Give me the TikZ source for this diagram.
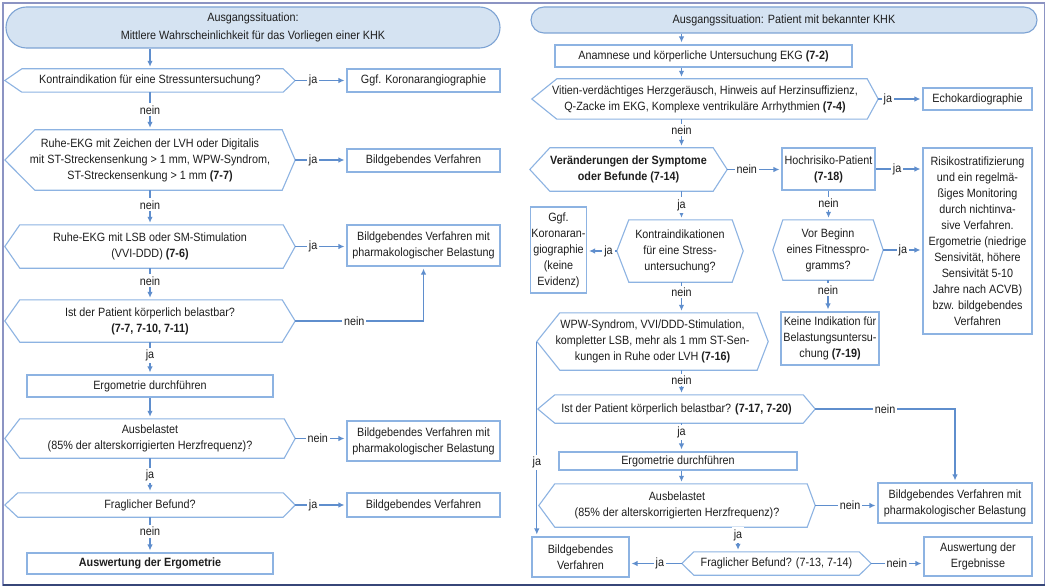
\documentclass[tikz,border=0pt]{standalone}
\usepackage{fontspec}
\setmainfont[FakeStretch=0.9]{Liberation Sans}
\usetikzlibrary{arrows.meta}
\definecolor{boxc}{RGB}{141,179,226}
\definecolor{linec}{RGB}{95,142,205}
\definecolor{hdf}{RGB}{213,227,242}
\definecolor{hdb}{RGB}{125,163,212}
\definecolor{framec}{RGB}{140,148,195}
\definecolor{framedk}{RGB}{55,70,120}
\definecolor{txt}{RGB}{30,30,30}
\newcommand{\hexdraw}[3]{\draw[hexline] (#1.west) -- ([xshift=#2pt]#1.north west) -- ([xshift=-#3pt]#1.north east) -- (#1.east) -- ([xshift=-#3pt]#1.south east) -- ([xshift=#2pt]#1.south west) -- cycle;}
\begin{document}
\begin{tikzpicture}[x=1pt,y=-1pt, font=\fontsize{12}{16}\selectfont, text=txt,
 bx/.style={draw=boxc, line width=1.1pt, align=center, inner sep=1pt},
 hx/.style={align=center, inner sep=0pt},
 hexline/.style={draw=boxc, line width=1.1pt},
 hd/.style={draw=hdb, fill=hdf, line width=1.1pt, align=center, inner sep=1pt},
 arr/.style={draw=linec, line width=1.3pt, -{Latex[length=6pt,width=5.5pt]}, shorten >=2pt},
 lbl/.style={fill=white, inner sep=2pt, text=txt}]
\useasboundingbox (0,0) rectangle (1048,588);
\fill[white] (0,0) rectangle (1048,588);
\draw[framec, line width=1.2pt] (3,3) rectangle (1044.5,585);
\draw[framedk, line width=1.4pt] (3,585) -- (1044.5,585);
% ---------- left ----------
\node[hd, rounded corners=20.5pt, minimum width=494pt, minimum height=41pt] (h1) at (253,27.5) {Ausgangssituation:\\[2pt]Mittlere Wahrscheinlichkeit für das Vorliegen einer KHK};
\node[hx, minimum width=290pt, minimum height=23pt] (d1) at (150,80.5) {Kontraindikation für eine Stressuntersuchung?};
\node[bx, minimum width=153pt, minimum height=23pt] (b1) at (423.5,80.5) {Ggf. Koronarangiographie};
\node[hx, minimum width=290pt, minimum height=60pt] (d2) at (150,160) {Ruhe-EKG mit Zeichen der LVH oder Digitalis\\mit ST-Streckensenkung > 1 mm, WPW-Syndrom,\\ST-Streckensenkung > 1 mm \textbf{(7-7)}};
\node[bx, minimum width=153pt, minimum height=23pt] (b2) at (423.5,160.5) {Bildgebendes Verfahren};
\node[hx, minimum width=290pt, minimum height=43pt] (d3) at (150,246.5) {Ruhe-EKG mit LSB oder SM-Stimulation\\(VVI-DDD) \textbf{(7-6)}};
\node[bx, minimum width=153pt, minimum height=41pt] (b3) at (423.5,245.5) {Bildgebendes Verfahren mit\\pharmakologischer Belastung};
\node[hx, minimum width=290pt, minimum height=42pt] (d4) at (150,321) {Ist der Patient körperlich belastbar?\\\textbf{(7-7, 7-10, 7-11)}};
\node[bx, minimum width=246pt, minimum height=22pt] (e1) at (150,386) {Ergometrie durchführen};
\node[hx, minimum width=290pt, minimum height=39pt] (d5) at (150,438.5) {Ausbelastet\\(85\% der alterskorrigierten Herzfrequenz)?};
\node[bx, minimum width=153pt, minimum height=40pt] (b5) at (423.5,441) {Bildgebendes Verfahren mit\\pharmakologischer Belastung};
\node[hx, minimum width=290pt, minimum height=24pt] (d6) at (150,505) {Fraglicher Befund?};
\node[bx, minimum width=153pt, minimum height=24pt] (b6) at (423.5,505) {Bildgebendes Verfahren};
\node[bx, minimum width=246pt, minimum height=21pt] (b7) at (150,563.5) {\textbf{Auswertung der Ergometrie}};
\hexdraw{d1}{17}{12}
\hexdraw{d2}{30}{13}
\hexdraw{d3}{15}{12}
\hexdraw{d4}{15}{13}
\hexdraw{d5}{15}{11}
\hexdraw{d6}{13}{12}
\draw[arr] (d1.north |- h1.south) -- (d1.north);
\draw[arr] (d1.east) -- node[lbl,pos=.35]{ja} (b1.west);
\draw[arr] (d1.south) -- node[lbl,pos=.47]{nein} (d2.north);
\draw[arr] (d2.east) -- node[lbl,pos=.35]{ja} (d2.east -| b2.west);
\draw[arr] (d2.south) -- node[lbl,pos=.42]{nein} (d3.north);
\draw[arr] (d3.east) -- node[lbl,pos=.35]{ja} (d3.east -| b3.west);
\draw[arr] (d3.south) -- node[lbl,pos=.4]{nein} (d4.north);
\draw[arr] (d4.east) -| node[lbl,pos=.23]{nein} (b3.south);
\draw[arr] (d4.south) -- node[lbl,pos=.4]{ja} (e1.north);
\draw[arr] (e1.south) -- (d5.north);
\draw[arr] (d5.east) -- node[lbl,pos=.44]{nein} (d5.east -| b5.west);
\draw[arr] (d5.south) -- node[lbl,pos=.49]{ja} (d6.north);
\draw[arr] (d6.east) -- node[lbl,pos=.35]{ja} (b6.west);
\draw[arr] (d6.south) -- node[lbl,pos=.4]{nein} (b7.north);
% ---------- right ----------
\node[hd, rounded corners=13pt, minimum width=506pt, minimum height=26pt] (h2) at (784,20) {Ausgangssituation: Patient mit bekannter KHK};
\node[bx, minimum width=297pt, minimum height=22pt] (an) at (703.5,56) {Anamnese und körperliche Untersuchung EKG \textbf{(7-2)}};
\node[hx, minimum width=346pt, minimum height=40pt] (vit) at (705,99) {Vitien-verdächtiges Herzgeräusch, Hinweis auf Herzinsuffizienz,\\Q-Zacke im EKG, Komplexe ventrikuläre Arrhythmien \textbf{(7-4)}};
\node[bx, minimum width=109pt, minimum height=22pt] (echo) at (977.5,99) {Echokardiographie};
\node[hx, minimum width=197pt, minimum height=43pt] (ver) at (628.5,169.5) {\textbf{Veränderungen der Symptome}\\\textbf{oder Befunde (7-14)}};
\node[bx, minimum width=93pt, minimum height=42pt] (hoch) at (828.5,169) {Hochrisiko-Patient\\\textbf{(7-18)}};
\node[bx, minimum width=109pt, minimum height=186pt] (risk) at (977.5,241) {Risikostratifizierung\\und ein regelmä-\\ßiges Monitoring\\durch nichtinva-\\sive Verfahren.\\Ergometrie (niedrige\\Sensivität, höhere\\Sensivität 5-10\\Jahre nach ACVB)\\bzw. bildgebendes\\Verfahren};
\node[bx, minimum width=53pt, minimum height=86pt] (ggf) at (558.5,250) {Ggf.\\Koronaran-\\giographie\\(keine\\Evidenz)};
\node[hx, minimum width=126pt, minimum height=62pt] (kon) at (680,251) {Kontraindikationen\\für eine Stress-\\untersuchung?};
\node[hx, minimum width=110pt, minimum height=60pt] (vor) at (828,250) {Vor Beginn\\eines Fitnesspro-\\gramms?};
\node[bx, minimum width=98pt, minimum height=53pt] (keine) at (830,338.5) {Keine Indikation für\\Belastungsuntersu-\\chung \textbf{(7-19)}};
\node[hx, minimum width=231pt, minimum height=57pt] (wpw) at (652.5,341.5) {WPW-Syndrom, VVI/DDD-Stimulation,\\kompletter LSB, mehr als 1 mm ST-Sen-\\kungen in Ruhe oder LVH \textbf{(7-16)}};
\node[hx, minimum width=277pt, minimum height=28pt] (bel) at (676.5,409) {Ist der Patient körperlich belastbar? \textbf{(7-17, 7-20)}};
\node[bx, minimum width=238pt, minimum height=18pt] (e2) at (678,461) {Ergometrie durchführen};
\node[hx, minimum width=276pt, minimum height=43pt] (aus) at (677,505.5) {Ausbelastet\\(85\% der alterskorrigierten Herzfrequenz)?};
\node[bx, minimum width=154pt, minimum height=40pt] (bp) at (955,503) {Bildgebendes Verfahren mit\\pharmakologischer Belastung};
\node[hx, minimum width=189pt, minimum height=23pt] (frag) at (776.5,563.5) {Fraglicher Befund? (7-13, 7-14)};
\node[bx, minimum width=97pt, minimum height=40pt] (bv) at (580.5,557) {Bildgebendes\\Verfahren};
\node[bx, minimum width=108pt, minimum height=39pt] (ausw) at (978,556.5) {Auswertung der\\Ergebnisse};
\hexdraw{vit}{25}{11}
\hexdraw{ver}{20}{14}
\hexdraw{kon}{12}{11}
\hexdraw{vor}{10}{10}
\hexdraw{wpw}{23}{11}
\hexdraw{bel}{17}{12}
\hexdraw{aus}{16}{8}
\hexdraw{frag}{12}{12}
\coordinate (cx) at (681.5,0);
\coordinate (fj) at (738,0);
\draw[arr] (cx |- h2.south) -- (cx |- an.north);
\draw[arr] (cx |- an.south) -- (cx |- vit.north);
\draw[arr] (vit.east) -- node[lbl,pos=.22]{ja} (echo.west);
\draw[arr] (cx |- vit.south) -- node[lbl,pos=.38]{nein} (cx |- ver.north);
\draw[arr] (ver.east) -- node[lbl,pos=.36]{nein} (ver.east -| hoch.west);
\draw[arr] (hoch.east) -- node[lbl,pos=.46]{ja} (hoch.east -| risk.west);
\draw[arr] (hoch.south) -- node[lbl,pos=.43]{nein} (hoch.south |- vor.north);
\draw[arr] (vor.east) -- node[lbl,pos=.5]{ja} (vor.east -| risk.west);
\draw[arr] (cx |- ver.south) -- node[lbl,pos=.48]{ja} (cx |- kon.north);
\draw[arr] (kon.west) -- node[lbl,pos=.28]{ja} (kon.west -| ggf.east);
\draw[arr] (vor.south) -- node[lbl,pos=.31]{nein} (vor.south |- keine.north);
\draw[arr] (cx |- kon.south) -- node[lbl,pos=.32]{nein} (cx |- wpw.north);
\draw[arr] (wpw.west) -- node[lbl,pos=.62]{ja} (wpw.west |- bv.north);
\draw[arr] (cx |- wpw.south) -- node[lbl,pos=.4]{nein} (cx |- bel.north);
\draw[arr] (bel.east) -| node[lbl,pos=.25]{nein} (bp.north);
\draw[arr] (cx |- bel.south) -- node[lbl,pos=.34]{ja} (cx |- e2.north);
\draw[arr] (cx |- e2.south) -- (cx |- aus.north);
\draw[arr] (aus.east) -- node[lbl,pos=.56]{nein} (aus.east -| bp.west);
\draw[arr] (fj |- aus.south) -- node[lbl,pos=.32]{ja} (fj |- frag.north);
\draw[arr] (frag.west) -- node[lbl,pos=.42]{ja} (frag.west -| bv.east);
\draw[arr] (frag.east) -- node[lbl,pos=.49]{nein} (frag.east -| ausw.west);
\end{tikzpicture}
\end{document}
